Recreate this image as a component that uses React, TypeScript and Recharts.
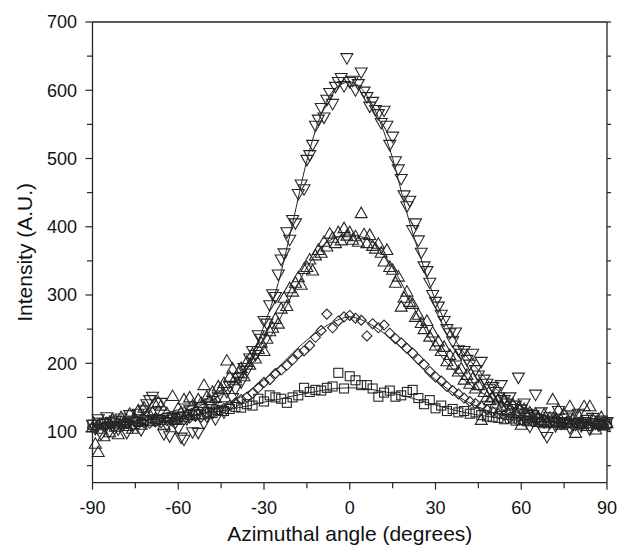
import { ComposedChart, Scatter, Line, XAxis, YAxis } from 'recharts';

// sample angles (degrees)
const fineAngles = [
  -90, -89, -88, -87, -86, -85, -84, -83, -82, -81,
  -80, -79, -78, -77, -76, -75, -74, -73, -72, -71,
  -70, -69, -68, -67, -66, -65, -64, -63, -62, -61,
  -60, -59, -58, -57, -56, -55, -54, -53, -52, -51,
  -50, -49, -48, -47, -46, -45, -44, -43, -42, -41,
  -40, -39, -38, -37, -36, -35, -34, -33, -32, -31,
  -30, -29, -28, -27, -26, -25, -24, -23, -22, -21,
  -20, -19, -18, -17, -16, -15, -14, -13, -12, -11,
  -10, -9, -8, -7, -6, -5, -4, -3, -2, -1,
  0, 1, 2, 3, 4, 5, 6, 7, 8, 9,
  10, 11, 12, 13, 14, 15, 16, 17, 18, 19,
  20, 21, 22, 23, 24, 25, 26, 27, 28, 29,
  30, 31, 32, 33, 34, 35, 36, 37, 38, 39,
  40, 41, 42, 43, 44, 45, 46, 47, 48, 49,
  50, 51, 52, 53, 54, 55, 56, 57, 58, 59,
  60, 61, 62, 63, 64, 65, 66, 67, 68, 69,
  70, 71, 72, 73, 74, 75, 76, 77, 78, 79,
  80, 81, 82, 83, 84, 85, 86, 87, 88, 89,
  90,
];

const coarseAngles = [
  -90, -88, -86, -84, -82, -80, -78, -76, -74, -72,
  -70, -68, -66, -64, -62, -60, -58, -56, -54, -52,
  -50, -48, -46, -44, -42, -40, -38, -36, -34, -32,
  -30, -28, -26, -24, -22, -20, -18, -16, -14, -12,
  -10, -8, -6, -4, -2, 0, 2, 4, 6, 8,
  10, 12, 14, 16, 18, 20, 22, 24, 26, 28,
  30, 32, 34, 36, 38, 40, 42, 44, 46, 48,
  50, 52, 54, 56, 58, 60, 62, 64, 66, 68,
  70, 72, 74, 76, 78, 80, 82, 84, 86, 88,
  90,
];

const fitAngles = [
  -90, -85, -80, -75, -70, -65, -60, -55, -50, -45, -40, -35, -30, -25, -20, -15, -10, -5,
  0, 5, 10, 15, 20, 25, 30, 35, 40, 45, 50, 55, 60, 65, 70, 75, 80, 85, 90,
];

// down triangles, one per degree
const downVals = [
  110, 104, 118, 96, 112, 121, 100, 108, 116, 103,
  119, 111, 98, 124, 107, 115, 126, 102, 131, 140,
  146, 151, 128, 117, 142, 96, 109, 93, 120, 113,
  104, 91, 88, 118, 131, 99, 125, 98, 136, 112,
  122, 141, 129, 118, 150, 137, 128, 158, 166, 149,
  162, 178, 172, 193, 189, 207, 218, 212, 241, 236,
  262, 258, 285, 301, 297, 330, 352, 361, 392, 381,
  410, 405, 448, 462, 455, 498, 505, 520, 548, 557,
  574, 560, 586, 596, 580, 605, 612, 618, 606, 647,
  612, 614, 600, 609, 626, 598, 590, 576, 583, 571,
  565, 552, 570, 548, 520, 532, 496, 484, 470, 446,
  430, 438, 395, 405, 380, 362, 342, 335, 318, 300,
  290, 283, 271, 262, 250, 244, 232, 245, 219, 214,
  218, 205, 198, 214, 190, 182, 202, 176, 170, 162,
  165, 158, 150, 168, 146, 141, 150, 133, 138, 179,
  132, 141, 126, 107, 124, 154, 118, 128, 99, 92,
  121, 116, 108, 130, 114, 112, 119, 105, 122, 110,
  126, 108, 114, 117, 103, 120, 112, 109, 116, 111,
  114,
];

// up triangles, one per degree
const upVals = [
  106, 82, 70, 104, 93, 112, 99, 118, 107, 96,
  121, 113, 108, 126, 104, 118, 131, 110, 135, 124,
  115, 128, 119, 143, 138, 110, 127, 121, 152, 117,
  134, 128, 147, 125, 150, 138, 131, 147, 142, 168,
  151, 146, 158, 149, 166, 162, 171, 204, 180, 192,
  178, 186, 193, 181, 202, 198, 214, 207, 221, 230,
  218, 236, 247, 252, 265, 258, 280, 296, 284, 310,
  305, 318, 326, 315, 338, 341, 352, 336, 358, 366,
  362, 378, 371, 390, 384, 376, 392, 380, 398, 387,
  392, 381, 386, 378, 420, 389, 376, 388, 372, 368,
  375, 362, 349, 366, 341, 337, 318, 327, 283, 296,
  305, 290, 287, 268, 271, 259, 250, 262, 239, 245,
  226, 232, 218, 224, 203, 212, 198, 210, 188, 192,
  176, 183, 170, 178, 163, 168, 117, 158, 151, 146,
  150, 141, 147, 136, 144, 138, 131, 140, 127, 135,
  110, 133, 124, 128, 119, 126, 121, 117, 125, 114,
  120, 147, 116, 132, 110, 125, 114, 137, 118, 98,
  124, 112, 137, 108, 137, 118, 103, 114, 121, 109,
  112,
];

// diamonds, every 2 degrees
const diamondVals = [
  106, 109, 107, 111, 108, 110, 112, 109, 111, 113,
  112, 114, 113, 116, 115, 118, 117, 120, 122, 121,
  127, 126, 131, 134, 138, 142, 147, 150, 156, 164,
  172, 176, 185, 190, 197, 205, 214, 218, 226, 238,
  248, 272, 252, 262, 268, 270, 266, 263, 240, 258,
  252, 256, 244, 236, 230, 222, 215, 206, 198, 188,
  180, 174, 166, 160, 155, 149, 144, 141, 137, 132,
  129, 126, 124, 121, 119, 117, 116, 114, 113, 112,
  111, 112, 110, 111, 109, 110, 111, 108, 110, 109,
  109,
];

// squares, every 2 degrees
const squareVals = [
  110, 113, 111, 114, 112, 115, 113, 116, 114, 117,
  116, 118, 117, 120, 119, 122, 121, 124, 126, 125,
  128, 127, 131, 130, 133, 136, 135, 140, 138, 148,
  144, 153, 150, 148, 142, 150, 153, 164, 158, 161,
  160, 164, 166, 186, 163, 181, 175, 168, 168, 163,
  151, 157, 160, 151, 153, 158, 161, 149, 140, 146,
  134, 138, 130, 133, 128, 130, 126, 128, 124, 122,
  121, 120, 118, 119, 116, 117, 115, 116, 114, 115,
  113, 114, 112, 113, 112, 113, 111, 112, 112, 111,
  112,
];

// fitted curves, every 5 degrees
const downFitVals = [
  108, 110, 112, 115, 118, 122, 127, 134, 142, 154, 172, 205, 255, 318, 405, 497, 565, 603,
  612, 598, 560, 500, 420, 352, 292, 248, 215, 190, 167, 150, 137, 128, 121, 117, 114, 112, 111,
];
const upFitVals = [
  110, 112, 114, 117, 121, 126, 132, 139, 148, 160, 176, 196, 222, 260, 302, 340, 370, 384,
  388, 384, 370, 340, 302, 260, 222, 196, 176, 160, 148, 139, 132, 126, 121, 117, 114, 112, 110,
];
const diamondFitVals = [
  108, 109, 110, 111, 113, 115, 118, 122, 128, 136, 146, 160, 176, 194, 215, 234, 250, 262,
  268, 262, 250, 234, 215, 194, 176, 160, 146, 136, 128, 122, 118, 115, 113, 111, 110, 109, 108,
];
const squareFitVals = [
  112, 113, 114, 115, 117, 119, 121, 124, 127, 130, 134, 138, 143, 147, 152, 156, 160, 163,
  164, 163, 160, 156, 151, 145, 139, 133, 128, 124, 121, 118, 116, 115, 114, 113, 112, 112, 111,
];

const xTicks = [-90, -75, -60, -45, -30, -15, 0, 15, 30, 45, 60, 75, 90];
const yTicks = [50, 100, 150, 200, 250, 300, 350, 400, 450, 500, 550, 600, 650, 700];

const INK = '#262626';
const FONT = '"Liberation Sans", Arial, Helvetica, sans-serif';

const pts = (xs: number[], ys: number[]) => xs.map((x, i) => ({ x, y: ys[i] }));

const downPts = pts(fineAngles, downVals);
const upPts = pts(fineAngles, upVals);
const diamondPts = pts(coarseAngles, diamondVals);
const squarePts = pts(coarseAngles, squareVals);
const downFit = pts(fitAngles, downFitVals);
const upFit = pts(fitAngles, upFitVals);
const diamondFit = pts(fitAngles, diamondFitVals);
const squareFit = pts(fitAngles, squareFitVals);

const markerStyle = { fill: 'none', stroke: INK, strokeWidth: 1.1 };

const DownMark = ({ cx, cy }: any) =>
  cx == null ? <g /> : <path d={`M${cx - 6},${cy - 4.5}L${cx + 6},${cy - 4.5}L${cx},${cy + 6}Z`} {...markerStyle} />;
const UpMark = ({ cx, cy }: any) =>
  cx == null ? <g /> : <path d={`M${cx - 6},${cy + 4.5}L${cx + 6},${cy + 4.5}L${cx},${cy - 6}Z`} {...markerStyle} />;
const DiamondMark = ({ cx, cy }: any) =>
  cx == null ? <g /> : <path d={`M${cx},${cy - 5}L${cx + 5},${cy}L${cx},${cy + 5}L${cx - 5},${cy}Z`} {...markerStyle} />;
const SquareMark = ({ cx, cy }: any) =>
  cx == null ? <g /> : <rect x={cx - 4.5} y={cy - 4.5} width={9} height={9} {...markerStyle} />;

const BottomTick = ({ x, y, payload }: any) => {
  const major = payload.value % 30 === 0;
  return (
    <g>
      <line x1={x} y1={y} x2={x} y2={y + (major ? 7 : 5.5)} stroke={INK} strokeWidth={1.2} />
      {major && (
        <text x={x} y={y + 31} textAnchor="middle" fontSize={18} fontFamily={FONT} fill="#111">
          {payload.value}
        </text>
      )}
    </g>
  );
};

const LeftTick = ({ x, y, payload }: any) => {
  const major = payload.value % 100 === 0;
  return (
    <g>
      <line x1={x} y1={y} x2={x - (major ? 7 : 5.5)} y2={y} stroke={INK} strokeWidth={1.2} />
      {major && (
        <text x={x - 15.5} y={y + 6.4} textAnchor="end" fontSize={18} fontFamily={FONT} fill="#111">
          {payload.value}
        </text>
      )}
    </g>
  );
};

const TopTick = ({ x, y }: any) => <line x1={x} y1={y} x2={x} y2={y - 4} stroke={INK} strokeWidth={1.2} />;
const RightTick = ({ x, y }: any) => <line x1={x} y1={y} x2={x + 4} y2={y} stroke={INK} strokeWidth={1.2} />;

const axisLine = { stroke: INK, strokeWidth: 1.3 };

export default function App() {
  return (
    <>
      <style>{'html,body{margin:0;padding:0;}'}</style>
      <ComposedChart
        width={619}
        height={548}
        margin={{ top: 21, right: 11, bottom: 0, left: 0 }}
        style={{ fontFamily: FONT }}
      >
        <XAxis
          dataKey="x"
          type="number"
          domain={[-90, 90]}
          ticks={xTicks}
          interval={0}
          height={65.3}
          tickSize={0}
          tickMargin={0}
          tickLine={false}
          tick={BottomTick}
          axisLine={axisLine}
          label={{
            value: 'Azimuthal angle (degrees)',
            position: 'insideBottom',
            offset: 7,
            style: { fontSize: 21, fontFamily: FONT, fill: '#111' },
          }}
        />
        <XAxis
          xAxisId="top"
          orientation="top"
          type="number"
          domain={[-90, 90]}
          allowDataOverflow
          ticks={xTicks}
          interval={0}
          height={1}
          tickSize={0}
          tickMargin={0}
          tickLine={false}
          tick={TopTick}
          axisLine={axisLine}
        />
        <YAxis
          type="number"
          domain={[25, 700]}
          ticks={yTicks}
          interval={0}
          width={92.5}
          tickSize={0}
          tickMargin={0}
          tickLine={false}
          tick={LeftTick}
          axisLine={axisLine}
          label={{
            value: 'Intensity (A.U.)',
            angle: -90,
            position: 'insideLeft',
            offset: 24.5,
            style: { fontSize: 21, fontFamily: FONT, fill: '#111', textAnchor: 'middle' },
          }}
        />
        <YAxis
          yAxisId="right"
          orientation="right"
          type="number"
          domain={[25, 700]}
          allowDataOverflow
          ticks={yTicks}
          interval={0}
          width={1}
          tickSize={0}
          tickMargin={0}
          tickLine={false}
          tick={RightTick}
          axisLine={axisLine}
        />

        <Line data={downFit} dataKey="y" type="monotone" stroke={INK} strokeWidth={1} dot={false} isAnimationActive={false} />
        <Line data={upFit} dataKey="y" type="monotone" stroke={INK} strokeWidth={1} dot={false} isAnimationActive={false} />
        <Line data={diamondFit} dataKey="y" type="monotone" stroke={INK} strokeWidth={1} dot={false} isAnimationActive={false} />
        <Line data={squareFit} dataKey="y" type="monotone" stroke={INK} strokeWidth={1} dot={false} isAnimationActive={false} />

        <Scatter data={squarePts} dataKey="y" shape={SquareMark} isAnimationActive={false} />
        <Scatter data={diamondPts} dataKey="y" shape={DiamondMark} isAnimationActive={false} />
        <Scatter data={upPts} dataKey="y" shape={UpMark} isAnimationActive={false} />
        <Scatter data={downPts} dataKey="y" shape={DownMark} isAnimationActive={false} />
      </ComposedChart>
    </>
  );
}
